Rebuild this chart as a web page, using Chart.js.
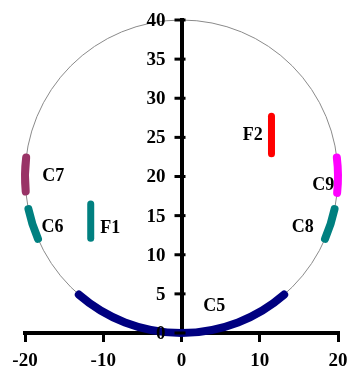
<!DOCTYPE html>
<html>
<head>
<meta charset="utf-8">
<script src="https://cdn.jsdelivr.net/npm/chart.js@4/dist/chart.umd.min.js"></script>
<style>
  html, body { margin: 0; padding: 0; background: #fff; }
  #wrap { width: 350px; height: 378px; }
</style>
</head>
<body>
<div id="wrap"><canvas id="c"></canvas></div>
<script>
// Axis ticks
const xTicks = [-20, -10, 0, 10, 20];
const yTicks = [0, 5, 10, 15, 20, 25, 30, 35, 40];

// Reference circle
const ringCenter = [0, 20];
const ringRadius = 20;

// Arc segments on the circle (degrees, counter-clockwise from +x)
const arcNames = ['C5', 'C6', 'C7', 'C8', 'C9'];
const arcStartDeg = [229, 192, 173, -23.5, -6];
const arcEndDeg = [311, 203.5, 185.5, -12, 7];
const arcColors = ['#000080', '#008080', '#993366', '#008080', '#FF00FF'];

// Vertical bars inside the circle
const barNames = ['F1', 'F2'];
const barX = [-11.6, 11.5];
const barYLow = [12.1, 22.9];
const barYHigh = [16.5, 27.7];
const barColors = ['#008080', '#FF0000'];

// Text labels (data coordinates)
const labelText = ['C5', 'C6', 'C7', 'C8', 'C9', 'F1', 'F2'];
const labelX = [4.2, -16.5, -16.4, 15.5, 18.1, -9.1, 9.1];
const labelY = [3.45, 13.5, 20.0, 13.5, 18.9, 13.35, 25.3];

const serif = '"Liberation Serif", "Times New Roman", serif';

const datasets = barNames.map((name, i) => ({
  label: name,
  data: [{x: barX[i], y: barYLow[i]}, {x: barX[i], y: barYHigh[i]}],
  showLine: true,
  borderColor: barColors[i],
  backgroundColor: barColors[i],
  borderWidth: 7,
  borderCapStyle: 'round',
  pointRadius: 0,
  pointHoverRadius: 0
}));

const ringPlugin = {
  id: 'ring',
  beforeDatasetsDraw(chart) {
    const {ctx, scales: {x, y}} = chart;
    const cx = x.getPixelForValue(ringCenter[0]);
    const cy = y.getPixelForValue(ringCenter[1]);
    const rx = Math.abs(x.getPixelForValue(ringCenter[0] + ringRadius) - cx);
    const ry = Math.abs(y.getPixelForValue(ringCenter[1] + ringRadius) - cy);
    ctx.save();
    ctx.beginPath();
    ctx.ellipse(cx, cy, rx, ry, 0, 0, Math.PI * 2);
    ctx.strokeStyle = '#8a8a8a';
    ctx.lineWidth = 1;
    ctx.stroke();
    ctx.lineCap = 'round';
    ctx.lineWidth = 8;
    arcNames.forEach((n, i) => {
      const a0 = -arcEndDeg[i] * Math.PI / 180;
      const a1 = -arcStartDeg[i] * Math.PI / 180;
      ctx.beginPath();
      ctx.ellipse(cx, cy, rx, ry, 0, a0, a1);
      ctx.strokeStyle = arcColors[i];
      ctx.stroke();
    });
    ctx.restore();
  },
  afterDatasetsDraw(chart) {
    const {ctx, scales: {x, y}} = chart;
    ctx.save();
    ctx.fillStyle = '#000';
    ctx.font = 'bold 18px ' + serif;
    ctx.textAlign = 'center';
    ctx.textBaseline = 'middle';
    labelText.forEach((t, i) => {
      ctx.fillText(t, x.getPixelForValue(labelX[i]), y.getPixelForValue(labelY[i]));
    });
    ctx.restore();
  },
  afterDraw(chart) {
    // centre axis: tick marks crossing the line and labels to its left
    const {ctx, scales: {x, y}} = chart;
    const ax = x.getPixelForValue(0);
    ctx.save();
    ctx.strokeStyle = '#000';
    ctx.lineWidth = 3;
    ctx.fillStyle = '#000';
    ctx.font = 'bold 19px ' + serif;
    ctx.textAlign = 'right';
    ctx.textBaseline = 'middle';
    y.ticks.forEach(t => {
      const py = y.getPixelForValue(t.value);
      ctx.beginPath();
      ctx.moveTo(ax - 7, py);
      ctx.lineTo(ax + 4, py);
      ctx.stroke();
      ctx.fillText(String(t.value), ax - 16, py + 1);
    });
    ctx.restore();
  }
};

new Chart(document.getElementById('c'), {
  type: 'scatter',
  data: { datasets },
  options: {
    responsive: true,
    maintainAspectRatio: false,
    animation: false,
    events: [],
    layout: { padding: { left: 25, right: 12, top: 20, bottom: -2 } },
    plugins: { legend: { display: false }, tooltip: { enabled: false } },
    scales: {
      x: {
        type: 'linear',
        position: 'bottom',
        min: -20, max: 20,
        afterBuildTicks: s => { s.ticks = xTicks.map(v => ({value: v})); },
        border: { display: true, color: '#000', width: 4 },
        grid: { drawOnChartArea: false, drawTicks: true, tickLength: 9, color: '#000', lineWidth: 3 },
        ticks: { color: '#000', font: { family: serif, size: 19, weight: 'bold', lineHeight: '34px' }, padding: 2, maxRotation: 0 }
      },
      y: {
        type: 'linear',
        position: { x: 0 },
        z: 1,
        min: 0, max: 40,
        afterBuildTicks: s => { s.ticks = yTicks.map(v => ({value: v})); },
        border: { display: true, color: '#000', width: 4 },
        grid: { drawOnChartArea: false, drawTicks: false },
        ticks: { display: false }
      }
    }
  },
  plugins: [ringPlugin]
});
</script>
</body>
</html>
